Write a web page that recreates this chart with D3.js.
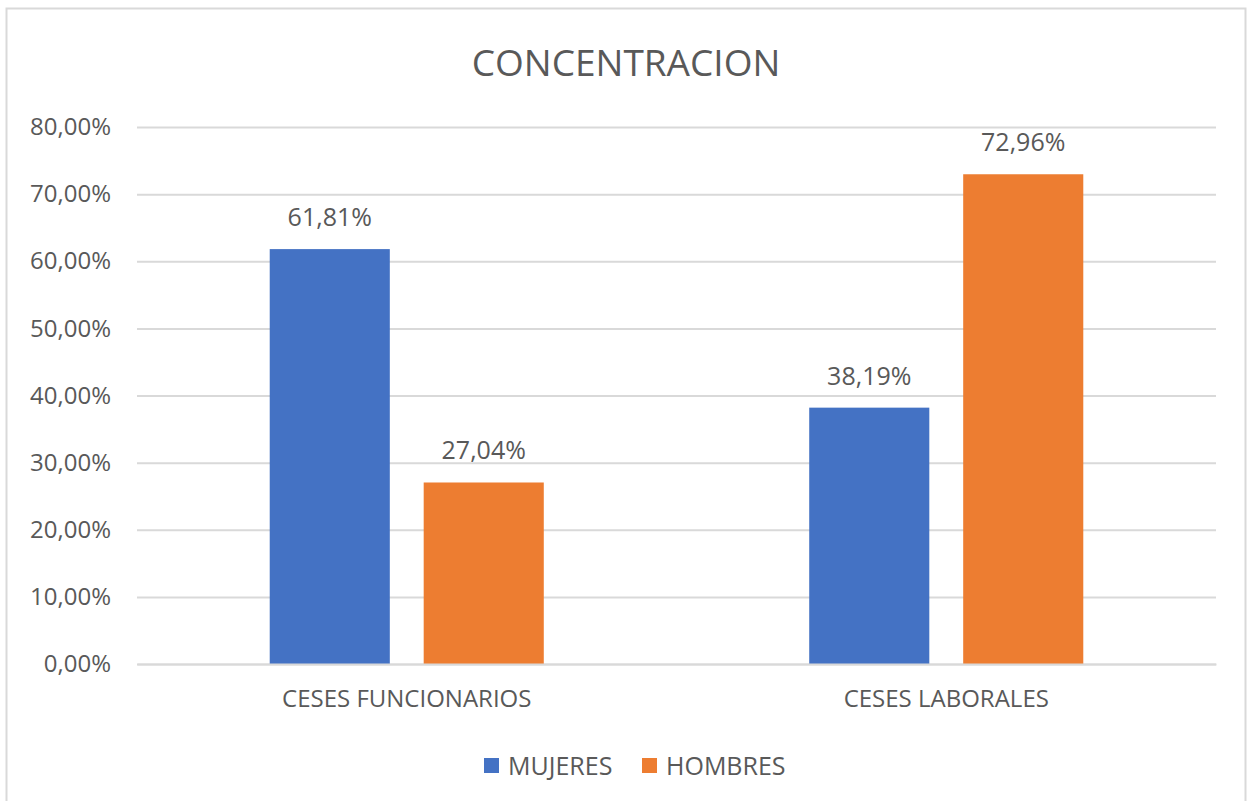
<!DOCTYPE html>
<html lang="es">
<head>
<meta charset="UTF-8">
<title>CONCENTRACION</title>
<script src="https://d3js.org/d3.v7.min.js"></script>
<style>
  body { margin: 0; background: #fff; }
  svg text { font-family: "Open Sans", "Noto Sans", sans-serif; fill: #595959; }
</style>
</head>
<body>
<script>
const categories = ["CESES FUNCIONARIOS", "CESES LABORALES"];
const seriesNames = ["MUJERES", "HOMBRES"];
const mujeres = [61.81, 38.19];
const hombres = [27.04, 72.96];
const yTicks = [0, 10, 20, 30, 40, 50, 60, 70, 80];
const colors = ["#4472C4", "#ED7D31"];

const W = 1248, H = 801;
const plot = { left: 137, right: 1216, top: 127, bottom: 664 };

const svg = d3.select("body").append("svg")
    .attr("width", W)
    .attr("height", H);

// chart frame
svg.append("rect")
    .attr("x", 6.5).attr("y", 8.5)
    .attr("width", 1239).attr("height", 800)
    .attr("fill", "#fff")
    .attr("stroke", "#d9d9d9")
    .attr("stroke-width", 2);

svg.append("text")
    .attr("x", 626).attr("y", 76)
    .attr("text-anchor", "middle")
    .style("font-size", "37px")
    .text("CONCENTRACION");

const x0 = d3.scaleBand()
    .domain(categories)
    .range([plot.left, plot.right]);

const x1 = d3.scaleBand()
    .domain(seriesNames)
    .range([0, x0.bandwidth()])
    .paddingInner(0.22)
    .paddingOuter(0.862);

const y = d3.scaleLinear()
    .domain([0, 80])
    .range([plot.bottom, plot.top]);

const fmt = v => v.toFixed(2).replace(".", ",") + "%";

// gridlines + y labels
const yAxis = d3.axisLeft(y)
    .tickValues(yTicks)
    .tickSize(-(plot.right - plot.left))
    .tickPadding(26)
    .tickFormat(fmt);

const gy = svg.append("g")
    .attr("transform", "translate(" + plot.left + ",0)")
    .call(yAxis);
gy.select(".domain").remove();
gy.selectAll(".tick line").attr("stroke", "#d9d9d9").attr("stroke-width", 2);
gy.selectAll(".tick text").style("font-size", "24px").attr("fill", "#595959");

const rows = categories.map((c, i) => ({ cat: c, vals: [mujeres[i], hombres[i]] }));

const groups = svg.selectAll(".grp")
    .data(rows)
    .enter()
    .append("g")
    .attr("class", "grp")
    .attr("transform", d => "translate(" + x0(d.cat) + ",0)");

groups.selectAll("rect")
    .data(d => d.vals.map((v, j) => ({ name: seriesNames[j], v: v, j: j })))
    .enter()
    .append("rect")
    .attr("x", d => x1(d.name))
    .attr("y", d => y(d.v))
    .attr("width", x1.bandwidth())
    .attr("height", d => plot.bottom - y(d.v))
    .attr("fill", d => colors[d.j]);

groups.selectAll(".lbl")
    .data(d => d.vals.map((v, j) => ({ name: seriesNames[j], v: v })))
    .enter()
    .append("text")
    .attr("class", "lbl")
    .attr("x", d => x1(d.name) + x1.bandwidth() / 2)
    .attr("y", d => y(d.v) - 23)
    .attr("text-anchor", "middle")
    .style("font-size", "25px")
    .text(d => fmt(d.v));

// category axis
const xAxis = d3.axisBottom(x0).tickSize(0).tickPadding(26);
const gx = svg.append("g")
    .attr("transform", "translate(0," + plot.bottom + ")")
    .call(xAxis);
gx.select(".domain").attr("stroke", "#d9d9d9").attr("stroke-width", 2);
gx.selectAll(".tick text").style("font-size", "24px").attr("fill", "#595959");

// legend
const legend = svg.append("g").attr("transform", "translate(484,766)");
const items = legend.selectAll("g")
    .data(seriesNames)
    .enter()
    .append("g")
    .attr("transform", (d, i) => "translate(" + (i * 158) + ",0)");
items.append("rect")
    .attr("x", 0).attr("y", -8)
    .attr("width", 15).attr("height", 15)
    .attr("fill", (d, i) => colors[i]);
items.append("text")
    .attr("x", 24).attr("y", 9)
    .style("font-size", "25px")
    .text(d => d);
</script>
</body>
</html>
